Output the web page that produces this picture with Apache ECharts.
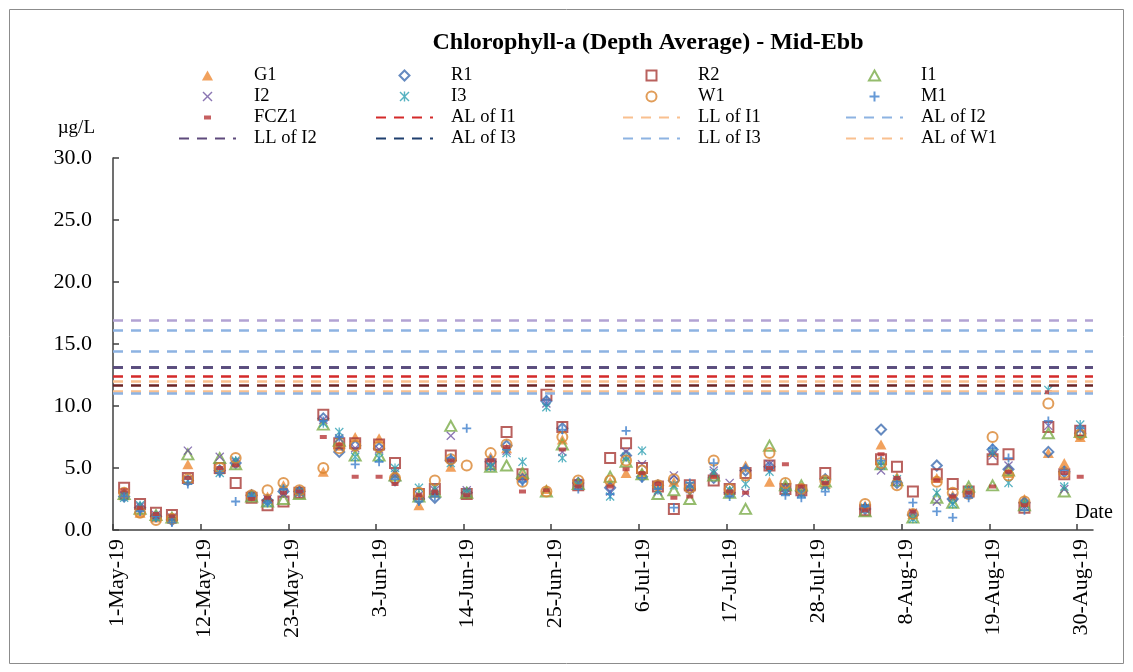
<!DOCTYPE html>
<html>
<head>
<meta charset="utf-8">
<script src="https://cdn.jsdelivr.net/npm/echarts@6/dist/echarts.min.js"></script>
<style>
  html, body { margin: 0; padding: 0; background: #fff; }
  #chart { width: 1133px; height: 672px; }
</style>
</head>
<body>
<div id="chart"></div>
<script>
// sampling dates (mid-ebb), 2019
const sampleDates = [
  "2019-05-02", "2019-05-04", "2019-05-06", "2019-05-08", "2019-05-10", "2019-05-14",
  "2019-05-16", "2019-05-18", "2019-05-20", "2019-05-22", "2019-05-24", "2019-05-27",
  "2019-05-29", "2019-05-31", "2019-06-03", "2019-06-05", "2019-06-08", "2019-06-10",
  "2019-06-12", "2019-06-14", "2019-06-17", "2019-06-19", "2019-06-21", "2019-06-24",
  "2019-06-26", "2019-06-28", "2019-07-02", "2019-07-04", "2019-07-06", "2019-07-08",
  "2019-07-10", "2019-07-12", "2019-07-15", "2019-07-17", "2019-07-19", "2019-07-22",
  "2019-07-24", "2019-07-26", "2019-07-29", "2019-08-03", "2019-08-05", "2019-08-07",
  "2019-08-09", "2019-08-12", "2019-08-14", "2019-08-16", "2019-08-19", "2019-08-21",
  "2019-08-23", "2019-08-26", "2019-08-28", "2019-08-30"
];
const sampleHour = 9.5;

// chlorophyll-a, ug/L
const G1 = [2.8,1.4,1.0,0.9,5.3,4.9,5.5,2.9,2.7,3.6, 3.2,4.7,6.8,7.5,7.4,4.6,2.0,3.0,5.1,2.9,
  5.9,6.6,4.4,3.3,7.3,3.9,3.9,4.6,4.6,3.7, 3.9,3.5,4.5,3.2,5.2,3.9,3.5,3.4,3.7,2.0,
  6.9,4.3,1.3,4.2,2.8,3.3,6.3,4.6,2.5,6.2, 5.4,7.5];
const R1 = [2.7,1.8,1.1,0.8,4.0,4.8,5.4,2.8,2.4,3.1, 3.1,9.0,6.3,6.8,6.6,4.0,2.5,2.6,5.6,3.0,
  5.5,6.8,4.1,10.4,8.2,3.8,3.4,6.0,4.3,3.6, 4.0,3.3,4.2,3.0,4.8,5.1,3.3,3.1,4.1,1.7,
  8.1,3.8,1.2,5.2,2.5,3.0,6.5,4.9,2.2,6.3, 4.7,7.8];
const R2 = [3.4,2.1,1.4,1.2,4.2,5.0,3.8,2.6,2.0,2.3, 3.0,9.3,7.0,7.0,6.9,5.4,2.9,3.3,6.0,2.9,
  5.3,7.9,4.5,10.9,8.3,3.6,5.8,7.0,5.0,3.5, 1.7,3.6,4.0,3.3,4.6,5.2,3.3,3.2,4.6,1.6,
  5.7,5.1,3.1,4.5,3.7,3.1,5.7,6.1,1.8,8.3, 4.5,8.0];
const I1 = [2.9,1.7,1.2,1.0,6.1,5.8,5.3,2.7,2.3,2.5, 2.9,8.5,7.2,6.0,6.0,4.4,2.7,3.1,8.4,3.0,
  5.1,5.2,4.6,3.1,6.9,3.7,4.3,5.5,4.5,2.9, 3.2,2.5,4.4,3.0,1.7,6.8,3.6,3.6,3.9,1.5,
  5.3,4.0,1.0,2.6,2.2,3.5,3.6,4.8,2.0,7.8, 3.1,7.9];
const I2 = [2.8,1.9,1.2,1.0,6.4,5.9,5.5,2.8,2.5,2.9, 3.0,8.9,7.4,6.6,6.5,4.6,2.8,3.2,7.6,3.2,
  5.4,6.4,4.2,10.2,6.3,3.8,3.1,6.3,5.3,3.1, 4.4,3.3,4.8,3.8,3.0,5.3,3.4,3.0,3.6,1.7,
  4.8,3.9,1.4,2.3,2.6,2.9,6.0,5.2,1.9,8.4, 3.3,8.1];
const I3 = [2.6,2.0,1.0,0.9,4.0,4.6,5.6,2.7,2.2,3.3, 3.1,8.6,7.9,5.9,5.8,5.0,3.4,3.4,5.4,3.0,
  5.1,6.2,5.5,9.9,5.8,3.6,2.7,5.9,6.4,3.2, 3.6,3.6,4.6,3.2,3.7,4.7,3.1,2.9,3.5,1.8,
  5.2,4.1,0.9,3.0,2.1,3.2,6.3,3.8,2.1,11.3, 3.5,8.5];
const W1 = [3.0,1.4,0.8,0.9,4.1,5.0,5.8,2.8,3.2,3.8, 3.2,5.0,6.6,6.8,6.7,4.2,3.0,4.0,5.7,5.2,
  6.2,6.9,3.9,3.1,7.5,4.0,4.0,5.6,4.8,3.6, 4.1,3.4,5.6,3.3,4.4,6.2,3.8,3.3,4.0,2.1,
  5.4,3.6,1.3,3.9,3.0,2.9,7.5,4.4,2.3,10.2, 4.6,7.7];
const M1 = [2.7,1.5,1.1,0.6,3.7,4.6,2.3,2.7,2.2,3.3, 3.1,8.8,7.5,5.3,5.5,4.1,2.3,2.7,5.8,8.2,
  5.7,6.5,3.9,10.5,8.1,3.3,2.9,8.0,4.2,3.3, 1.8,3.8,5.4,2.7,5.0,5.0,2.8,2.6,3.1,1.9,
  5.6,3.9,2.2,1.5,1.0,2.6,6.6,5.8,1.6,8.8, 4.8,8.2];
const FCZ1 = [3.2,1.8,1.3,1.1,4.2,5.0,5.2,2.5,2.6,3.0, 3.1,7.5,6.9,4.3,4.3,3.7,2.8,3.1,5.6,2.8,
  5.6,6.7,3.1,3.2,6.5,3.5,3.5,4.9,4.6,3.7, 2.6,2.7,4.3,3.1,3.0,5.0,5.3,3.5,3.8,1.6,
  6.1,4.2,1.5,4.0,2.7,3.0,3.5,4.7,2.0,11.1, 4.6,4.3];

// action / limit levels, ug/L
const limitNames = ["AL of I3", "AL of I1", "LL of I1", "AL of I2", "LL of I2", "LL of I3", "AL of W1", "LL of W1", "AL of M1", "LL of M1"];
const limitValues = [13.1, 12.4, 11.2, 16.1, 13.1, 11.05, 12.0, 11.7, 16.9, 14.4];

// axis
const axisStart = "2019-05-01";
const axisEnd = "2019-09-01";
const tickDays = 11;
const yMax = 30;
const yStep = 5;

const FONT = "'Liberation Serif', 'Times New Roman', serif";
const MONTHS = ["Jan","Feb","Mar","Apr","May","Jun","Jul","Aug","Sep","Oct","Nov","Dec"];
const DAY = 86400000;
const t0 = Date.parse(axisStart);
const dayOf = s => (Date.parse(s) - t0) / DAY;
const xMax = dayOf(axisEnd);

const tickValues = [];
for (let d = 0; d <= xMax; d += tickDays) tickValues.push(d);

function dateLabel(d) {
  const dt = new Date(t0 + d * DAY);
  return dt.getUTCDate() + "-" + MONTHS[dt.getUTCMonth()] + "-" + String(dt.getUTCFullYear()).slice(2);
}

// marker shapes (Excel style)
const triangle = "path://M5,0L10,9L0,9Z";
const diamond = "path://M5,0L10,5L5,10L0,5Z";
const square = "path://M0,0H10V10H0Z";
// small dash centred in a 10x10 box (corner specks keep the box square)
const dash = "path://M1.5,3H8.5V7H1.5Z M0,0H0.01V0.01H0Z M10,10H9.99V9.99H10Z";
const plus = "path://M4,0H6V4H10V6H6V10H4V6H0V4H4Z";
const cross = "path://M1,0L5,4L9,0L10,1L6,5L10,9L9,10L5,6L1,10L0,9L4,5L0,1Z";
const star = "path://M1,0L5,4L9,0L10,1L6,5L10,9L9,10L5,6L1,10L0,9L4,5L0,1Z M4.3,0H5.7V10H4.3Z";

const pointSeries = [
  { name: "G1", values: G1, symbol: triangle, size: [11, 10], fill: "#EE8A35", hollow: false },
  { name: "R1", values: R1, symbol: diamond, size: 10, fill: "#3E6DB0", hollow: true },
  { name: "R2", values: R2, symbol: square, size: 10, fill: "#A83A36", hollow: true },
  { name: "I1", values: I1, symbol: triangle, size: [11, 10], fill: "#7AAB48", hollow: true },
  { name: "I2", values: I2, symbol: cross, size: 9, fill: "#6E54A0", hollow: false },
  { name: "I3", values: I3, symbol: star, size: 9, fill: "#2C9FB2", hollow: false },
  { name: "W1", values: W1, symbol: "circle", size: 10, fill: "#D98430", hollow: true },
  { name: "M1", values: M1, symbol: plus, size: 9, fill: "#3F7FCC", hollow: false },
  { name: "FCZ1", values: FCZ1, symbol: dash, size: 10, fill: "#B8383A", hollow: false }
];

const limitColors = {
  "AL of I1": "#D42A2A", "LL of I1": "#F9C08F", "AL of I2": "#8DB3E2", "LL of I2": "#5E4A7C",
  "AL of I3": "#1F3F6E", "LL of I3": "#8DB3E2", "AL of W1": "#F9C08F", "LL of W1": "#6B2424",
  "AL of M1": "#B3A3D3", "LL of M1": "#8DB3E2"
};

const series = [];
pointSeries.forEach(p => {
  series.push({
    name: p.name,
    type: "scatter",
    symbol: p.symbol,
    symbolSize: p.size,
    itemStyle: p.hollow
      ? { color: "rgba(255,255,255,0)", borderColor: p.fill, borderWidth: 2 }
      : { color: p.fill },
    data: sampleDates.map((s, i) => [dayOf(s) + sampleHour / 24, p.values[i]])
  });
});
limitNames.forEach((n, i) => {
  const ls = { color: limitColors[n], width: 2.6, type: [10, 8] };
  series.push({
    name: n,
    type: "line",
    symbol: "none",
    data: [],
    lineStyle: ls,
    itemStyle: { color: limitColors[n] },
    markLine: {
      silent: true,
      symbol: "none",
      label: { show: false },
      lineStyle: ls,
      data: [{ yAxis: limitValues[i] }]
    }
  });
});

const legendItem = n => (limitNames.indexOf(n) >= 0 ? { name: n, itemStyle: { opacity: 0 } } : { name: n });
const legendBase = {
  orient: "vertical",
  top: 60,
  itemWidth: 57,
  itemHeight: 10,
  itemGap: 0,
  textStyle: { fontFamily: FONT, fontSize: 18.5, color: "#000", lineHeight: 21, padding: [0, 0, 0, 13] }
};
const legendCols = [
  { left: 173, data: ["G1", "I2", "FCZ1", "LL of I2"] },
  { left: 370, data: ["R1", "I3", "AL of I1", "AL of I3"] },
  { left: 617, data: ["R2", "W1", "LL of I1", "LL of I3"] },
  { left: 840, data: ["I1", "M1", "AL of I2", "AL of W1"] }
];

const chart = echarts.init(document.getElementById("chart"));
chart.setOption({
  animation: false,
  backgroundColor: "#fff",
  title: {
    text: "Chlorophyll-a (Depth Average) - Mid-Ebb",
    left: 643,
    top: 26,
    textAlign: "center",
    textStyle: { fontFamily: FONT, fontSize: 24, fontWeight: "bold", color: "#000" }
  },
  legend: legendCols.map(c => Object.assign({}, legendBase, c, { data: c.data.map(legendItem) })),
  grid: { left: 113, right: 40, top: 158, bottom: 142 },
  xAxis: {
    type: "value",
    min: 0,
    max: xMax,
    interval: tickDays,
    splitLine: { show: false },
    axisLine: { lineStyle: { color: "#404040", width: 1.5 } },
    axisTick: { inside: true, length: 6, customValues: tickValues, lineStyle: { color: "#404040", width: 1.5 } },
    axisLabel: {
      customValues: tickValues,
      rotate: 90,
      margin: 9,
      verticalAlign: "top",
      lineHeight: 8,
      fontFamily: FONT,
      fontSize: 22,
      color: "#000",
      formatter: v => dateLabel(v)
    }
  },
  yAxis: {
    type: "value",
    min: 0,
    max: yMax,
    interval: yStep,
    name: "µg/L",
    nameLocation: "end",
    nameGap: 20,
    nameTextStyle: { fontFamily: FONT, fontSize: 19, color: "#000", align: "right", padding: [0, 18, 0, 0] },
    splitLine: { show: false },
    axisLine: { show: true, lineStyle: { color: "#404040", width: 1.5 } },
    axisTick: { show: true, inside: true, length: 6, lineStyle: { color: "#404040", width: 1.5 } },
    axisLabel: {
      margin: 21,
      fontFamily: FONT,
      fontSize: 22,
      color: "#000",
      formatter: v => v.toFixed(1)
    }
  },
  graphic: [
    {
      type: "rect",
      shape: { x: 9.5, y: 9.5, width: 1114, height: 654 },
      style: { fill: "none", stroke: "#8C8C8C", lineWidth: 1 },
      silent: true
    },
    {
      type: "text",
      left: 1075,
      top: 503,
      style: { text: "Date", font: "20px " + FONT, fill: "#000" },
      silent: true
    }
  ],
  series: series
});
</script>
</body>
</html>
